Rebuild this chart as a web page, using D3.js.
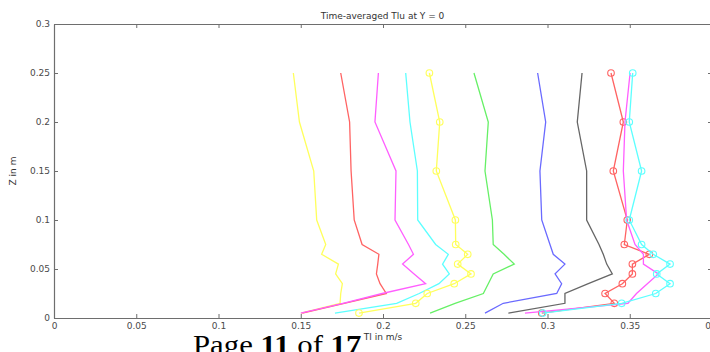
<!DOCTYPE html>
<html>
<head>
<meta charset="utf-8">
<script src="https://cdn.jsdelivr.net/npm/d3@7"></script>
<style>
  body { margin: 0; background: #fff; overflow: hidden; }
  svg { display: block; }
</style>
</head>
<body>
<svg id="vis" width="710" height="352"></svg>
<script>
// heights where every profile was sampled (m)
var zLevels = [0.005, 0.015, 0.025, 0.035, 0.045, 0.055, 0.065, 0.075, 0.1, 0.15, 0.2, 0.25];

// Tl (m/s) per profile, same order as zLevels
var yellowPlain  = [0.1502, 0.1739, 0.1743, 0.1753, 0.1712, 0.1729, 0.1627, 0.1652, 0.1597, 0.1579, 0.1492, 0.1455];
var redPlain     = [0.1510, 0.1764, 0.2020, 0.1982, 0.1960, 0.1968, 0.1975, 0.1873, 0.1825, 0.1806, 0.1797, 0.1743];
var magentaPlain = [0.1500, 0.1757, 0.1995, 0.2259, 0.2189, 0.2119, 0.2185, 0.2155, 0.2073, 0.2079, 0.1951, 0.1972];
var cyanPlain    = [0.1708, 0.2083, 0.2220, 0.2340, 0.2403, 0.2362, 0.2397, 0.2320, 0.2211, 0.2209, 0.2164, 0.2138];
var yellowCircle = [0.1854, 0.2199, 0.2269, 0.2433, 0.2535, 0.2454, 0.2515, 0.2442, 0.2440, 0.2324, 0.2345, 0.2282];
var greenPlain   = [0.2286, 0.2438, 0.2610, 0.2640, 0.2670, 0.2798, 0.2736, 0.2670, 0.2665, 0.2620, 0.2640, 0.2553];
var bluePlain    = [0.2620, 0.2731, 0.3056, 0.3086, 0.3046, 0.3106, 0.3035, 0.3015, 0.2965, 0.2954, 0.2989, 0.2940];
var blackPlain   = [0.2762, 0.3106, 0.3106, 0.3248, 0.3394, 0.3360, 0.3339, 0.3313, 0.3238, 0.3238, 0.3181, 0.3210];
var redCircle    = [0.2965, 0.3406, 0.3350, 0.3455, 0.3516, 0.3516, 0.3619, 0.3467, 0.3485, 0.3400, 0.3461, 0.3386];
var magentaPlain2= [0.2863, 0.3489, 0.3541, 0.3607, 0.3674, 0.3583, 0.3583, 0.3532, 0.3481, 0.3461, 0.3471, 0.3502];
var cyanCircle   = [0.2971, 0.3451, 0.3658, 0.3745, 0.3664, 0.3745, 0.3643, 0.3572, 0.3497, 0.3572, 0.3497, 0.3518];

var xTicks = [0, 0.05, 0.1, 0.15, 0.2, 0.25, 0.3, 0.35, 0.4];
var xTickLabels = ["0", "0.05", "0.1", "0.15", "0.2", "0.25", "0.3", "0.35", "0.4"];
var yTicks = [0, 0.05, 0.1, 0.15, 0.2, 0.25, 0.3];
var yTickLabels = ["0", "0.05", "0.1", "0.15", "0.2", "0.25", "0.3"];

var series = [
    { values: yellowPlain,   color: "#ffff5c", marker: false },
    { values: redPlain,      color: "#ff6363", marker: false },
    { values: magentaPlain,  color: "#ff5eff", marker: false },
    { values: cyanPlain,     color: "#5cffff", marker: false },
    { values: yellowCircle,  color: "#ffff5c", marker: true },
    { values: greenPlain,    color: "#66f066", marker: false },
    { values: bluePlain,     color: "#6a6aff", marker: false },
    { values: blackPlain,    color: "#666666", marker: false },
    { values: redCircle,     color: "#ff6363", marker: true },
    { values: magentaPlain2, color: "#ff5eff", marker: false },
    { values: cyanCircle,    color: "#5cffff", marker: true }
];

var svg = d3.select("svg#vis");

var margin = { top: 24, right: -2, bottom: 34, left: 54 };
var plotWidth = 710 - margin.left - margin.right;
var plotHeight = 352 - margin.top - margin.bottom;

var xScale = d3.scaleLinear().domain([0, 0.4]).range([0, plotWidth]);
var yScale = d3.scaleLinear().domain([0, 0.3]).range([plotHeight, 0]);

var plot = svg.append("g")
    .attr("transform", "translate(" + margin.left + "," + margin.top + ")");

var axisColor = "#6e6e6e";
var textColor = "#4a4a4a";

function styleAxis(g) {
    g.select(".domain").attr("stroke", axisColor).attr("stroke-width", 1.2);
    g.selectAll(".tick line").attr("stroke", axisColor);
    g.selectAll(".tick text")
        .attr("fill", textColor)
        .style("font-family", "DejaVu Sans, sans-serif")
        .style("font-size", "9px");
}

// matlab style: ticks pointing inwards on all four sides
plot.append("g")
    .attr("transform", "translate(0," + plotHeight + ")")
    .call(d3.axisBottom(xScale).tickValues(xTicks)
        .tickFormat(function(d, i) { return xTickLabels[i]; })
        .tickSizeInner(-4).tickSizeOuter(0).tickPadding(5))
    .call(styleAxis);

plot.append("g")
    .call(d3.axisTop(xScale).tickValues(xTicks).tickFormat("")
        .tickSizeInner(-4).tickSizeOuter(0))
    .call(styleAxis);

plot.append("g")
    .call(d3.axisLeft(yScale).tickValues(yTicks)
        .tickFormat(function(d, i) { return yTickLabels[i]; })
        .tickSizeInner(-4).tickSizeOuter(0).tickPadding(4))
    .call(styleAxis);

plot.append("g")
    .attr("transform", "translate(" + plotWidth + ",0)")
    .call(d3.axisRight(yScale).tickValues(yTicks).tickFormat("")
        .tickSizeInner(-4).tickSizeOuter(0))
    .call(styleAxis);

var lineFunction = d3.line()
    .x(function(d) { return xScale(d.x); })
    .y(function(d) { return yScale(d.z); });

series.forEach(function(s) {
    var pts = zLevels.map(function(z, i) { return { x: s.values[i], z: z }; });

    plot.append("path")
        .attr("d", lineFunction(pts))
        .attr("stroke", s.color)
        .attr("stroke-width", 1.3)
        .attr("fill", "none");

    if (s.marker) {
        plot.append("g").selectAll("circle")
            .data(pts)
            .enter()
            .append("circle")
            .attr("cx", function(d) { return xScale(d.x); })
            .attr("cy", function(d) { return yScale(d.z); })
            .attr("r", 3.3)
            .attr("fill", "none")
            .attr("stroke", s.color)
            .attr("stroke-width", 1.1);
    }
});

svg.append("text")
    .attr("x", 382.5)
    .attr("y", 18.5)
    .style("text-anchor", "middle")
    .style("font-family", "DejaVu Sans, sans-serif")
    .style("font-size", "9px")
    .attr("fill", "#333")
    .text("Time-averaged Tlu at Y = 0");

svg.append("text")
    .attr("x", 383)
    .attr("y", 339.5)
    .style("text-anchor", "middle")
    .style("font-family", "DejaVu Sans, sans-serif")
    .style("font-size", "9px")
    .attr("fill", "#333")
    .text("Tl in m/s");

svg.append("text")
    .attr("transform", "translate(16," + (margin.top + plotHeight / 2) + ") rotate(-90)")
    .style("text-anchor", "middle")
    .style("font-family", "DejaVu Sans, sans-serif")
    .style("font-size", "9px")
    .attr("fill", "#333")
    .text("Z in m");

// page footer from the document the figure was cut out of (only its top shows)
var footer = svg.append("text")
    .attr("transform", "translate(193,354) scale(1.14,1)")
    .style("font-family", "Liberation Serif, serif")
    .style("font-size", "27px")
    .attr("fill", "#000");
footer.append("tspan").text("Page ");
footer.append("tspan").style("font-weight", "bold").text("11");
footer.append("tspan").text(" of ");
footer.append("tspan").style("font-weight", "bold").text("17");
</script>
</body>
</html>
